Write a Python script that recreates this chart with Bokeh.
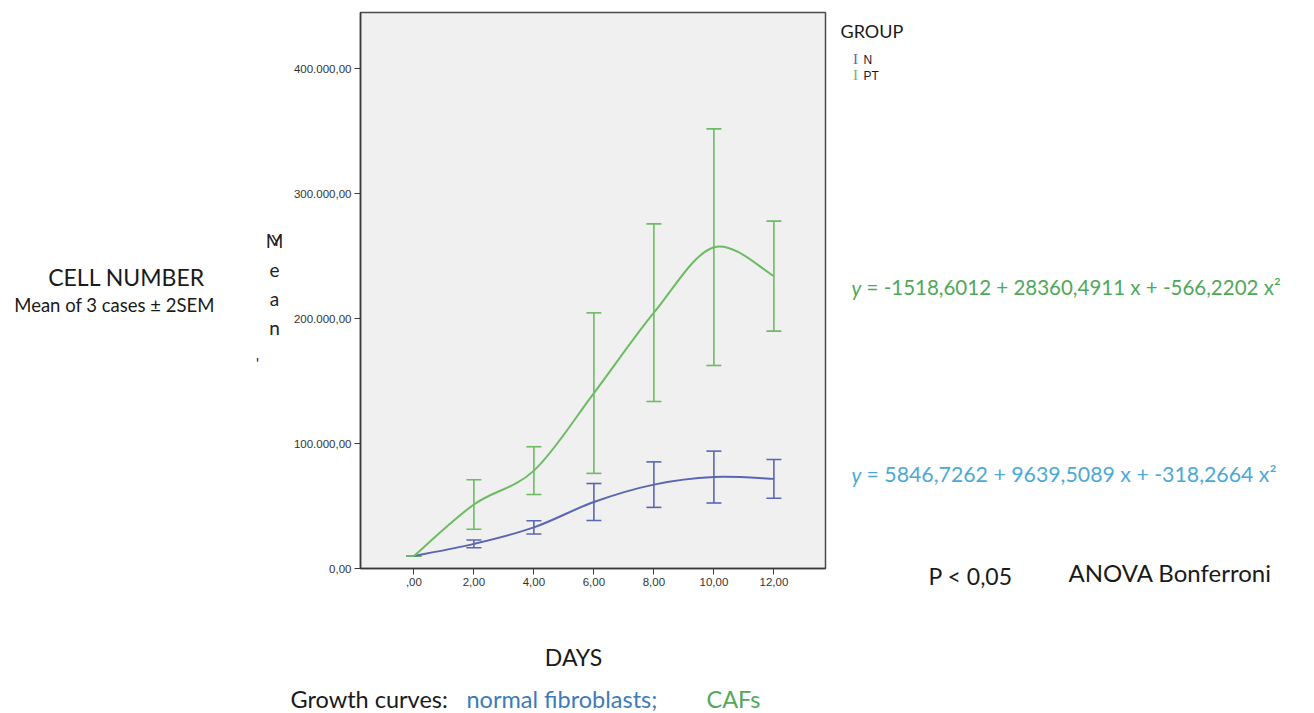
from bokeh.plotting import figure
from bokeh.layouts import row, column
from bokeh.models import Range1d, FixedTicker, Label, Whisker, ColumnDataSource, TeeHead, Plot
from bokeh.embed import file_html
from bokeh.resources import INLINE

# ---------------- data ----------------
days = [0, 2, 4, 6, 8, 10, 12]
x_tick_labels = [",00", "2,00", "4,00", "6,00", "8,00", "10,00", "12,00"]
y_ticks = [0, 100000, 200000, 300000, 400000]
y_tick_labels = ["0,00", "100.000,00", "200.000,00", "300.000,00", "400.000,00"]

n_mean = [10000, 19700, 32900, 53200, 67100, 73150, 71700]
n_err = [0, 3100, 5300, 14800, 18200, 20750, 15500]
pt_mean = [10000, 51200, 78300, 140300, 204650, 257050, 233900]
pt_err = [0, 19800, 19100, 64200, 71050, 94650, 44000]

groups = ["N", "PT"]

BLUE = "#5a66b2"
GREEN = "#6dbb63"

# ---------------- layout geometry (canvas pixels) ----------------
W, H = 1314, 713
ROW_H = 620
MAIN_X0, MAIN_X1 = 285, 828
FL, FR, FT, FB = 360, 825, 12, 568  # frame edges on the canvas

HAS_FRAME_ALIGN = "frame_align" in Plot.properties()


def no_align(f):
    if HAS_FRAME_ALIGN:
        f.frame_align = False


def text_panel(x0, x1, y0, y1):
    """A blank figure whose data coordinates equal canvas pixels."""
    f = figure(width=x1 - x0, height=y1 - y0,
               x_range=Range1d(x0, x1), y_range=Range1d(y1, y0),
               output_backend="svg", toolbar_location=None,
               min_border=0, outline_line_color=None)
    f.axis.visible = False
    f.grid.visible = False
    f.background_fill_color = "white"
    f.border_fill_color = "white"
    no_align(f)
    return f


def label(f, text, X, Y, size, color="#1a1a1a", font="Lato", align="left",
          style="normal"):
    f.add_layout(Label(x=X, y=Y, text=text, text_font=font,
                       text_font_size=f"{size}px", text_color=color,
                       text_align=align, text_baseline="middle",
                       text_font_style=style))


# ---------------- main chart ----------------
p = figure(width=MAIN_X1 - MAIN_X0, height=ROW_H,
           x_range=Range1d(-1.78, 13.72), y_range=Range1d(0, 444800),
           output_backend="svg", toolbar_location=None,
           min_border_left=FL - MAIN_X0, min_border_right=MAIN_X1 - FR,
           min_border_top=FT, min_border_bottom=ROW_H - FB)
no_align(p)
p.background_fill_color = "#f0f0f0"
p.border_fill_color = "white"
p.outline_line_color = "#4a4a4a"
p.outline_line_width = 1.5
p.xgrid.visible = False
p.ygrid.visible = False

p.xaxis.ticker = FixedTicker(ticks=days)
p.xaxis.major_label_overrides = {d: l for d, l in zip(days, x_tick_labels)}
p.yaxis.ticker = FixedTicker(ticks=y_ticks)
p.yaxis.major_label_overrides = {t: l for t, l in zip(y_ticks, y_tick_labels)}
for ax in (p.xaxis, p.yaxis):
    ax.axis_line_color = "#3a3a3a"
    ax.axis_line_width = 1.5
    ax.major_tick_line_color = "#3a3a3a"
    ax.major_tick_out = 6
    ax.major_tick_in = 0
    ax.minor_tick_line_color = None
    ax.major_label_text_font = "Liberation Sans"
    ax.major_label_text_font_size = "11.5px"
    ax.major_label_text_color = "#333333"
    ax.major_label_standoff = 3


def smooth(xs, ys):
    """Catmull-Rom control points for a smooth curve through the means."""
    n = len(xs)
    out = dict(x0=[], y0=[], x1=[], y1=[], cx0=[], cy0=[], cx1=[], cy1=[])
    for i in range(n - 1):
        a = max(i - 1, 0)
        d = min(i + 2, n - 1)
        out["x0"].append(xs[i]); out["y0"].append(ys[i])
        out["x1"].append(xs[i + 1]); out["y1"].append(ys[i + 1])
        out["cx0"].append(xs[i] + (xs[i + 1] - xs[a]) / 6)
        out["cy0"].append(ys[i] + (ys[i + 1] - ys[a]) / 6)
        out["cx1"].append(xs[i + 1] - (xs[d] - xs[i]) / 6)
        out["cy1"].append(ys[i + 1] - (ys[d] - ys[i]) / 6)
    return out


for mean, err, col in ((n_mean, n_err, BLUE), (pt_mean, pt_err, GREEN)):
    src = ColumnDataSource(dict(x=days,
                                lo=[m - e for m, e in zip(mean, err)],
                                hi=[m + e for m, e in zip(mean, err)]))
    w = Whisker(base="x", lower="lo", upper="hi", source=src,
                line_color=col, line_width=1.6,
                upper_head=TeeHead(size=15, line_color=col, line_width=1.6),
                lower_head=TeeHead(size=15, line_color=col, line_width=1.6))
    p.add_layout(w)
    p.bezier(source=ColumnDataSource(smooth(days, mean)),
             x0="x0", y0="y0", x1="x1", y1="y1",
             cx0="cx0", cy0="cy0", cx1="cx1", cy1="cy1",
             line_color=col, line_width=2)

# ---------------- left panel ----------------
left = text_panel(0, MAIN_X0, 0, ROW_H)
label(left, "CELL NUMBER", 126, 276, 23, align="center")
label(left, "Mean of 3 cases ± 2SEM", 114, 304, 18.5, align="center")
for ch, yy in zip(["M", "e", "a", "n"], [240, 269, 298, 327]):
    label(left, ch, 274, yy, 19, color="#222222", align="center")
label(left, "Y", 276, 239, 16, color="#222222", align="center")
label(left, "'", 257, 362, 15, color="#222222", align="center")

# ---------------- right panel ----------------
right = text_panel(MAIN_X1, W, 0, ROW_H)
label(right, "GROUP", 840, 30, 18)
for g, col, yy in zip(groups, [BLUE, GREEN], [58, 74]):
    label(right, "I", 855, yy, 15, color=col, font="Liberation Serif", align="center")
    label(right, g, 863, yy + 1, 12, font="Liberation Sans")

EQ_G = "#4ea85a"
EQ_B = "#4aa9d6"
label(right, "y", 851, 287, 20.5, color=EQ_G, style="italic")
label(right, "= -1518,6012 + 28360,4911 x + -566,2202 x²", 866, 286, 20.5, color=EQ_G)
label(right, "y", 851, 474, 20.5, color=EQ_B, style="italic")
label(right, "= 5846,7262 + 9639,5089 x + -318,2664 x²", 866, 473, 21.3, color=EQ_B)

label(right, "P < 0,05", 928, 575, 23)
label(right, "ANOVA Bonferroni", 1068, 572, 24)

# ---------------- bottom panel ----------------
bottom = text_panel(0, W, ROW_H, H)
label(bottom, "DAYS", 573, 656, 23, align="center")
label(bottom, "Growth curves:", 290, 698, 23.5)
label(bottom, "normal fibroblasts;", 466, 698, 23.5, color="#3d7bb8")
label(bottom, "CAFs", 706, 698, 23.5, color="#55a85a")

layout = column(row(left, p, right, spacing=0), bottom, spacing=0)
open("out.html", "w").write(file_html(layout, INLINE))
